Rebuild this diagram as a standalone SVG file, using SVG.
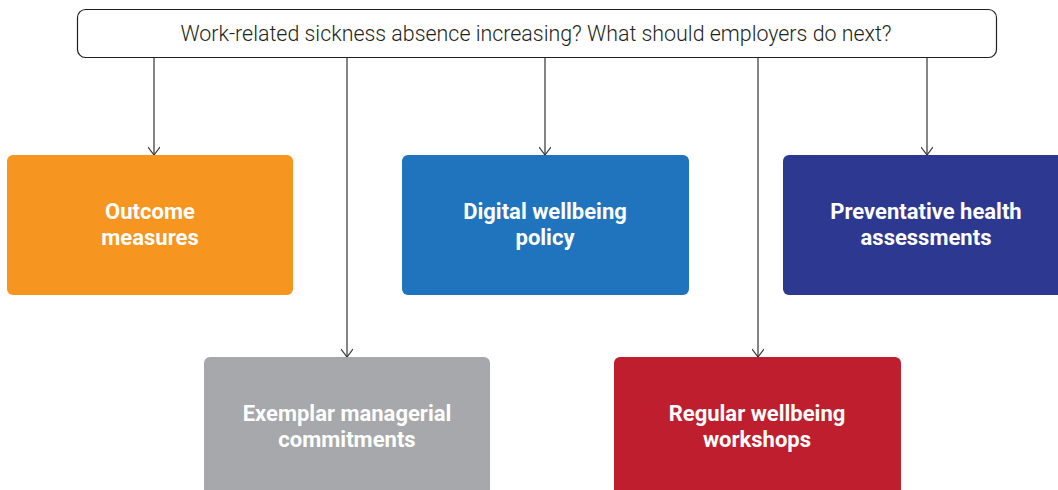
<svg xmlns="http://www.w3.org/2000/svg" width="1058" height="490" viewBox="0 0 1058 490">
<style>
.t{font-family:Roboto,"Liberation Sans",sans-serif;font-weight:700;font-size:22px;fill:#ffffff;text-anchor:middle}
.q{font-family:Roboto,"Liberation Sans",sans-serif;font-weight:300;font-size:21.4px;fill:#231f20;text-anchor:middle}
.c{stroke:#333333;stroke-width:1.2;fill:none}
</style>
<defs>
<marker id="ah" viewBox="0 0 12 12" refX="10" refY="6" markerWidth="12" markerHeight="12" markerUnits="userSpaceOnUse" orient="auto">
<path d="M2,0 L10,6 L2,12" fill="none" stroke="#333333" stroke-width="1.2"/>
</marker>
</defs>
<rect width="1058" height="490" fill="#ffffff"/>
<g id="connectors">
<line class="c" x1="154" y1="57" x2="154" y2="155" marker-end="url(#ah)"/>
<line class="c" x1="347" y1="57" x2="347" y2="357" marker-end="url(#ah)"/>
<line class="c" x1="545" y1="57" x2="545" y2="155" marker-end="url(#ah)"/>
<line class="c" x1="758" y1="57" x2="758" y2="357" marker-end="url(#ah)"/>
<line class="c" x1="927" y1="57" x2="927" y2="155" marker-end="url(#ah)"/>
</g>
<g id="question">
<rect x="77.5" y="9.5" width="919" height="48" rx="8" fill="#ffffff" stroke="#231f20" stroke-width="1.2"/>
<text class="q" x="536" y="40.5">Work-related sickness absence increasing? What should employers do next?</text>
</g>
<g id="outcome">
<rect x="7" y="155" width="286" height="140" rx="6" fill="#f6951f"/>
<text class="t" x="150" y="219">Outcome</text>
<text class="t" x="150" y="245">measures</text>
</g>
<g id="digital">
<rect x="402" y="155" width="287" height="140" rx="6" fill="#1f74bd"/>
<text class="t" x="545" y="219">Digital wellbeing</text>
<text class="t" x="545" y="245">policy</text>
</g>
<g id="preventative">
<rect x="783" y="155" width="285" height="140" rx="6" fill="#2d3990"/>
<text class="t" x="926" y="219">Preventative health</text>
<text class="t" x="926" y="245">assessments</text>
</g>
<g id="exemplar">
<rect x="204" y="357" width="286" height="145" rx="6" fill="#a6a8ab"/>
<text class="t" x="347" y="421">Exemplar managerial</text>
<text class="t" x="347" y="447">commitments</text>
</g>
<g id="regular">
<rect x="614" y="357" width="287" height="145" rx="6" fill="#be1e2e"/>
<text class="t" x="757" y="421">Regular wellbeing</text>
<text class="t" x="757" y="447">workshops</text>
</g>
</svg>
